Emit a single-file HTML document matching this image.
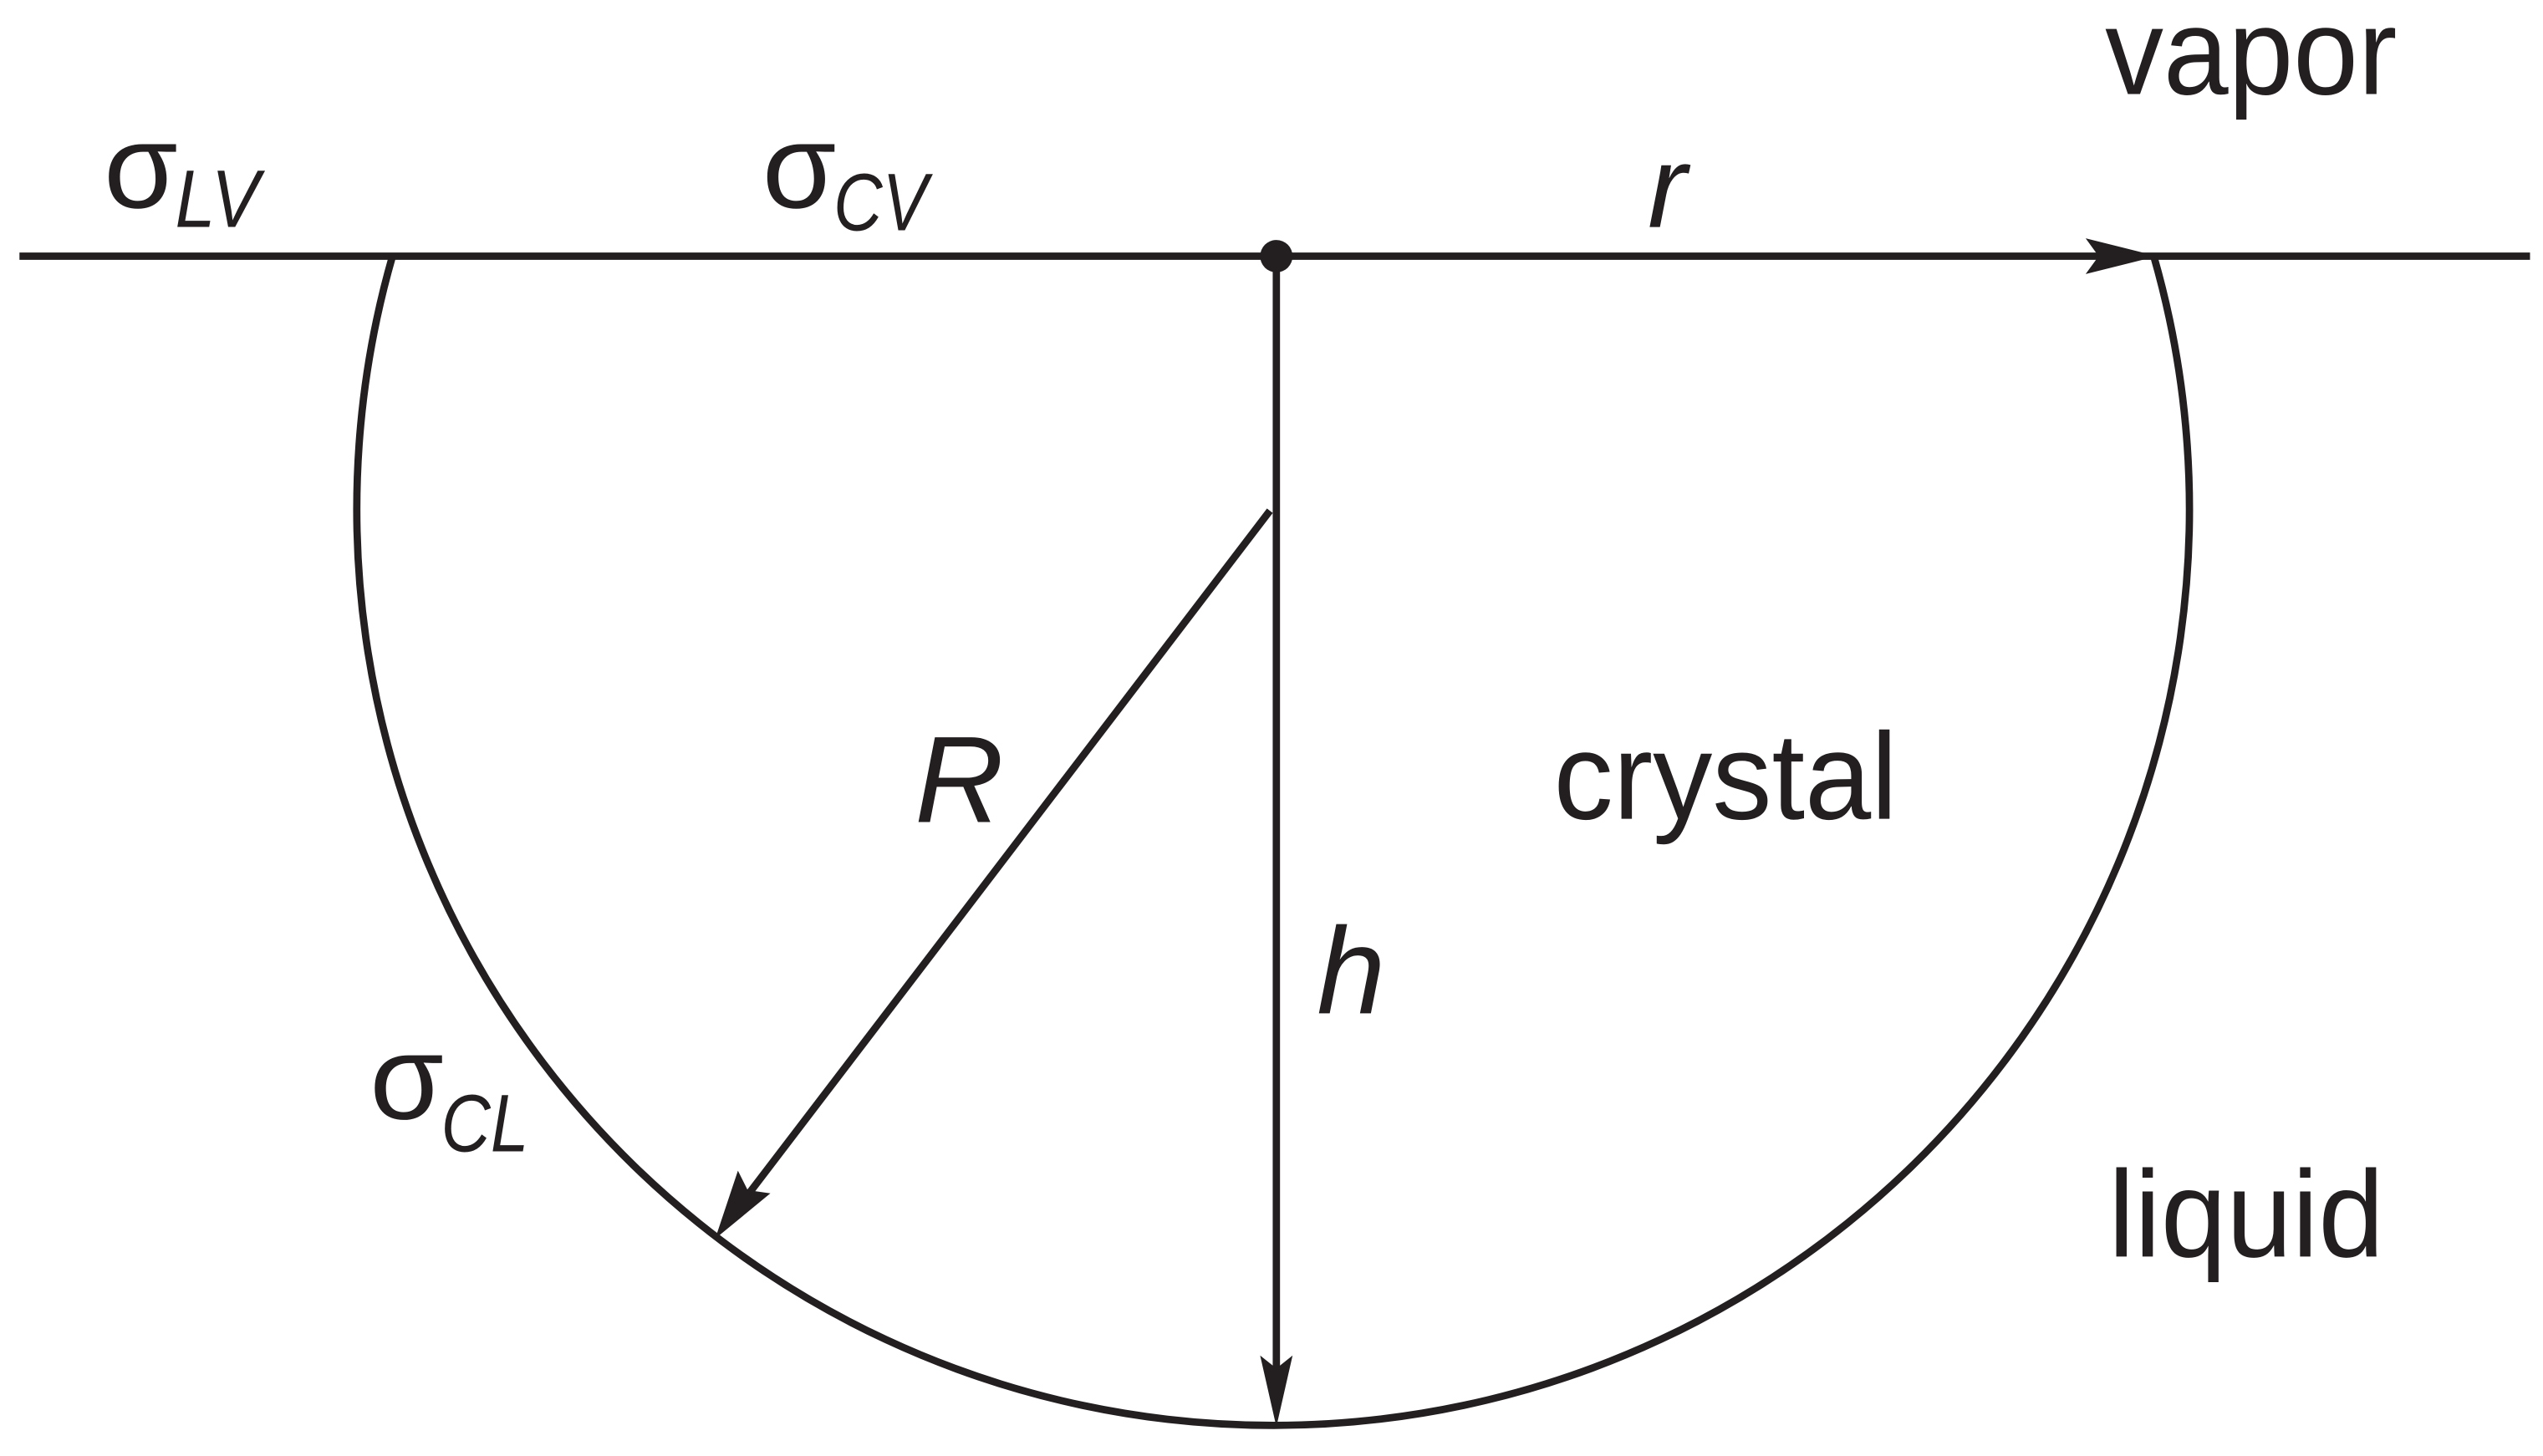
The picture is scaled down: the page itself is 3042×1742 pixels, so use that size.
<!DOCTYPE html>
<html><head><meta charset="utf-8"><style>html,body{margin:0;padding:0;background:#fff}svg{display:block}</style></head>
<body>
<svg width="3042" height="1742" viewBox="0 0 1568 898" preserveAspectRatio="none" xmlns="http://www.w3.org/2000/svg">
<g stroke="#231f20" stroke-width="4.5" fill="none">
<line x1="12" y1="158" x2="1560" y2="158"/>
<line x1="787" y1="158" x2="787" y2="860"/>
<line x1="783" y1="315" x2="455" y2="745"/>
<path d="M242,158 A565,565 0 1 0 1328,158"/>
</g>
<circle cx="787" cy="158" r="10" fill="#231f20"/>
<g fill="#231f20">
<polygon points="1330,158 1286,147 1294,158 1286,169"/>
<polygon points="787,880 777,836 787,844 797,836"/>
<polygon points="441,764 455,722 461,734 475,736"/>
</g>
<g font-family="Liberation Sans, sans-serif" fill="#231f20">
<text x="1298" y="58" font-size="76" textLength="180" lengthAdjust="spacingAndGlyphs">vapor</text>
<text x="958" y="505" font-size="76" textLength="212" lengthAdjust="spacingAndGlyphs">crystal</text>
<text x="1300" y="775" font-size="76" textLength="170" lengthAdjust="spacingAndGlyphs">liquid</text>
<text x="1016" y="140" font-size="72" font-style="italic">r</text>
<text x="564" y="507" font-size="76" font-style="italic">R</text>
<text x="812" y="625" font-size="76" font-style="italic">h</text>
<text x="64" y="128" font-size="74">σ</text><text x="108" y="140" font-size="50" font-style="italic" textLength="52" lengthAdjust="spacingAndGlyphs">LV</text>
<text x="470" y="128" font-size="74">σ</text><text x="514" y="142" font-size="50" font-style="italic" textLength="58" lengthAdjust="spacingAndGlyphs">CV</text>
<text x="228" y="690" font-size="74">σ</text><text x="272" y="710" font-size="50" font-style="italic" textLength="54" lengthAdjust="spacingAndGlyphs">CL</text>
</g>
</svg>
</body></html>
